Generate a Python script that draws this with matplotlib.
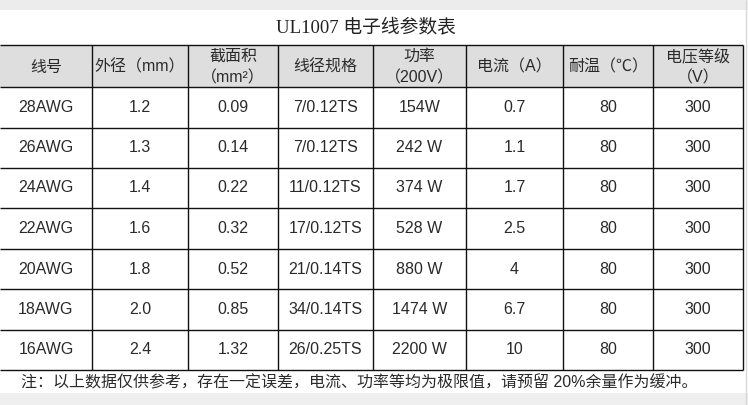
import matplotlib.pyplot as plt
from matplotlib.patches import Rectangle

plt.rcParams["font.family"] = ["Liberation Sans", "Noto Sans CJK SC", "DejaVu Sans"]

TITLE = "UL1007 电子线参数表"
HEADERS = ["线号", "外径（mm）", "截面积\n（mm²）", "线径规格", "功率\n（200V）",
           "电流（A）", "耐温（℃）", "电压等级\n（V）"]
GAUGE = ["28AWG", "26AWG", "24AWG", "22AWG", "20AWG", "18AWG", "16AWG"]
OUTER_DIA = ["1.2", "1.3", "1.4", "1.6", "1.8", "2.0", "2.4"]
AREA = ["0.09", "0.14", "0.22", "0.32", "0.52", "0.85", "1.32"]
STRANDS = ["7/0.12TS", "7/0.12TS", "11/0.12TS", "17/0.12TS", "21/0.14TS", "34/0.14TS", "26/0.25TS"]
POWER = ["154W", "242 W", "374 W", "528 W", "880 W", "1474 W", "2200 W"]
CURRENT = ["0.7", "1.1", "1.7", "2.5", "4", "6.7", "10"]
TEMP = ["80"] * 7
VOLTAGE = ["300"] * 7
NOTE = "注：以上数据仅供参考，存在一定误差，电流、功率等均为极限值，请预留 20%余量作为缓冲。"

# table grid in pixel coordinates
col_edges = [0, 92, 188, 278, 373, 466, 563, 653, 743]
row_edges = [45, 87, 128, 168, 208, 249, 289, 330, 370]

fig = plt.figure(figsize=(7.48, 4.05), dpi=100)
ax = fig.add_axes([0, 0, 1, 1])
ax.set_xlim(0, 748)
ax.set_ylim(405, 0)
ax.axis("off")

# page background bands
ax.add_patch(Rectangle((0, 0), 748, 10, color="#ececec", lw=0))
ax.add_patch(Rectangle((0, 393), 748, 12, color="#efefef", lw=0))
ax.vlines(746, 0, 405, color="#d8d8d8", lw=1)

# header fill
ax.add_patch(Rectangle((0, row_edges[0]), col_edges[-1], row_edges[1] - row_edges[0],
                       color="#dedede", lw=0))

ax.text(366, 27, TITLE, ha="center", va="center", fontsize=13.5, color="#222222",
        family=["Liberation Serif", "Noto Sans CJK SC"])

ax.hlines(row_edges, 0, col_edges[-1], color="#111111", lw=1.0)
ax.vlines(col_edges[1:], row_edges[0], row_edges[-1], color="#111111", lw=1.0)

text_kw = dict(ha="center", va="center", fontsize=11.5, color="#2a2a2a")

centers_x = [(a + b) / 2 for a, b in zip(col_edges[:-1], col_edges[1:])]
head_mid = (row_edges[0] + row_edges[1]) / 2
for cx, h in zip(centers_x, HEADERS):
    lines = h.split("\n")
    if len(lines) == 1:
        ax.text(cx, head_mid + 1, h, **text_kw)
    else:
        ax.text(cx, head_mid - 9.5, lines[0], **text_kw)
        ax.text(cx, head_mid + 11.5, lines[1], **text_kw)

columns = [GAUGE, OUTER_DIA, AREA, STRANDS, POWER, CURRENT, TEMP, VOLTAGE]
for i in range(len(GAUGE)):
    cy = (row_edges[i + 1] + row_edges[i + 2]) / 2
    for cx, col in zip(centers_x, columns):
        ax.text(cx, cy, col[i], **text_kw)

ax.text(21, 383, NOTE, ha="left", va="center", fontsize=11.5, color="#2a2a2a")

fig.savefig("out.png", dpi=100)
